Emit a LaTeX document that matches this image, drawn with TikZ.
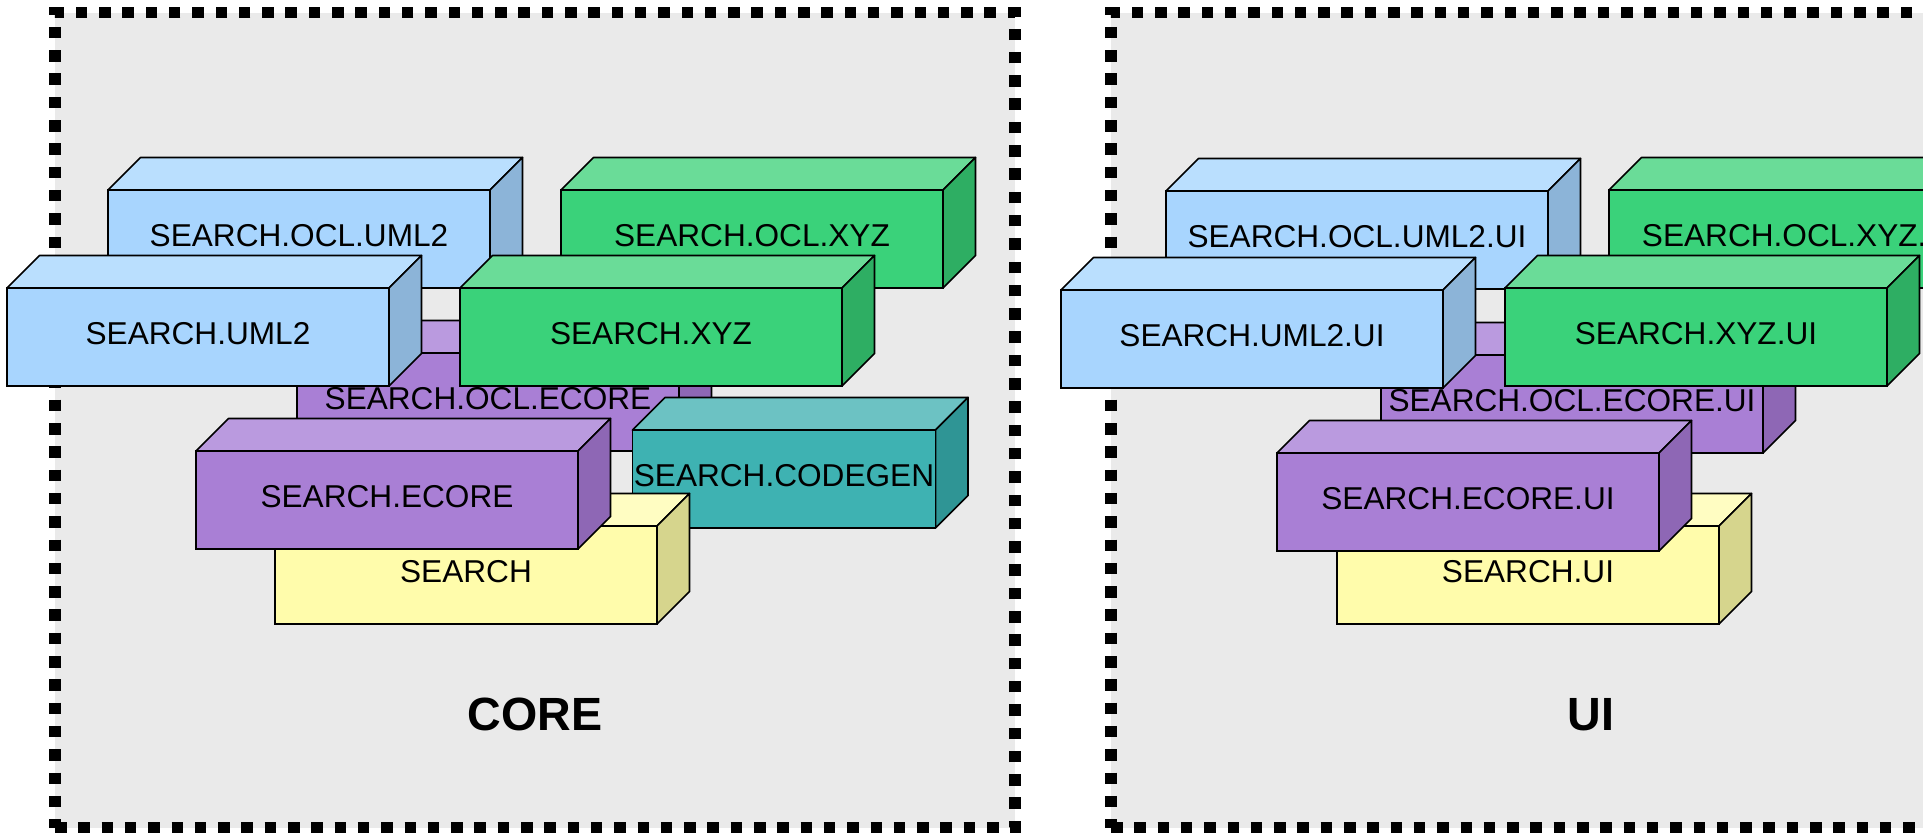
\documentclass[tikz,border=0pt]{standalone}
\usepackage{fontspec}
\setmainfont{Liberation Sans}
\usepackage{tikz}
\usetikzlibrary{positioning}

\definecolor{panelgray}{HTML}{EAEAEA}
\definecolor{bluefront}{HTML}{A8D5FE}
\definecolor{bluetop}{HTML}{BADFFE}
\definecolor{blueside}{HTML}{8CB4D8}
\definecolor{greenfront}{HTML}{3AD27A}
\definecolor{greentop}{HTML}{6ADC98}
\definecolor{greenside}{HTML}{2EAE63}
\definecolor{purplefront}{HTML}{A97FD5}
\definecolor{purpletop}{HTML}{BA9ADF}
\definecolor{purpleside}{HTML}{8E67B5}
\definecolor{tealfront}{HTML}{3EB2B2}
\definecolor{tealtop}{HTML}{6CC2C3}
\definecolor{tealside}{HTML}{2F9595}
\definecolor{yellowfront}{HTML}{FFFCAB}
\definecolor{yellowtop}{HTML}{FFFDC2}
\definecolor{yellowside}{HTML}{D6D58D}

\tikzset{
	panel/.style={draw, fill=panelgray, line width=5.75pt, dash pattern=on 5.75pt off 5.9pt,
		minimum width=480pt, minimum height=407.5pt, inner sep=0pt, outer sep=0pt},
	title/.style={font=\bfseries\fontsize{23.3}{28}\selectfont},
	pkg/.style={draw, line width=0.85pt, fill=#1front, minimum width=191pt, minimum height=49pt,
		inner sep=0pt, outer sep=0pt, text depth=3.5pt, font=\fontsize{15.8}{18}\selectfont,
		append after command={\pgfextra{\let\pkgnode\tikzlastnode
			\draw[line width=0.85pt, line join=round, fill=#1top] (\pkgnode.north west) -- ++(16.25pt,16.25pt)
				-- ([shift={(16.25pt,16.25pt)}]\pkgnode.north east) -- (\pkgnode.north east) -- cycle;
			\draw[line width=0.85pt, line join=round, fill=#1side] (\pkgnode.north east) -- ++(16.25pt,16.25pt)
				-- ([shift={(16.25pt,16.25pt)}]\pkgnode.south east) -- (\pkgnode.south east) -- cycle;}}},
}

\begin{document}
\begin{tikzpicture}[x=0.5pt, y=-0.5pt]
		\useasboundingbox (0,0) rectangle (1923,835);
		
		% Panels
		\node[panel] (corepanel) at (535,420) {};
		\node[panel, right=48pt of corepanel] (uipanel) {};
		\node[title] (coretitle) at ([yshift=56.5pt]corepanel.south) {CORE};
		\node[title] (uititle) at ([yshift=56.5pt]uipanel.south) {UI};
		
		% Core plug-ins, back to front
		\node[pkg=blue] (oclumltwo) at (299,239) {SEARCH.OCL.UML2};
		\node[pkg=green] (oclxyz) at (752,239) {SEARCH.OCL.XYZ};
		\node[pkg=purple] (oclecore) at (488,402) {SEARCH.OCL.ECORE};
		\node[pkg=blue] (umltwo) at (198,337) {SEARCH.UML2};
		\node[pkg=green] (xyz) at (651,337) {SEARCH.XYZ};
		\node[pkg=teal, minimum width=151.5pt] (codegen) at (784,479) {SEARCH.CODEGEN};
		\node[pkg=yellow] (search) at (466,575) {SEARCH};
		\node[pkg=purple] (ecore) at (387,500) {SEARCH.ECORE};
		
		% UI plug-ins, back to front
		\node[pkg=blue] (oclumltwoui) at (1357,240) {SEARCH.OCL.UML2.UI};
		\node[pkg=green] (oclxyzui) at (1800,239) {SEARCH.OCL.XYZ.UI};
		\node[pkg=purple] (oclecoreui) at (1572,404) {SEARCH.OCL.ECORE.UI};
		\node[pkg=blue] (umltwoui) at (1252,339) {SEARCH.UML2.UI};
		\node[pkg=green] (xyzui) at (1696,337) {SEARCH.XYZ.UI};
		\node[pkg=yellow] (searchui) at (1528,575) {SEARCH.UI};
		\node[pkg=purple] (ecoreui) at (1468,502) {SEARCH.ECORE.UI};
	\end{tikzpicture}
\end{document}
